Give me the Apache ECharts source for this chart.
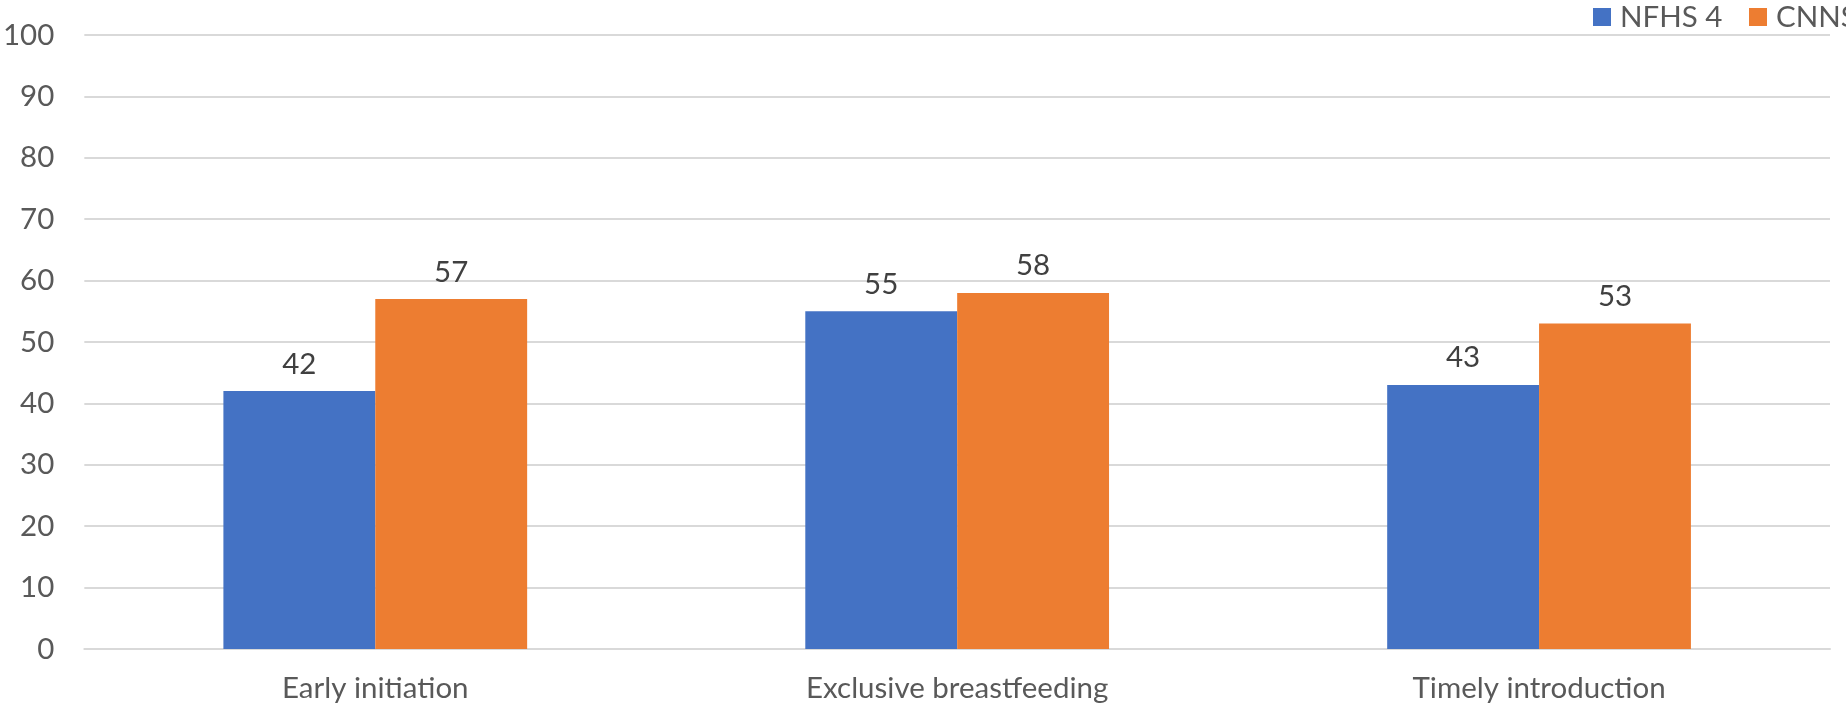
<!DOCTYPE html>
<html>
<head>
<meta charset="utf-8">
<script src="https://cdn.jsdelivr.net/npm/echarts@6/dist/echarts.min.js"></script>
<style>
html,body{margin:0;padding:0;background:#fff;overflow:hidden;width:1846px;height:707px;}
#chart{width:1920px;height:707px;}
</style>
</head>
<body>
<div id="chart"></div>
<script>
const categories = ['Early initiation', 'Exclusive breastfeeding', 'Timely introduction'];
const nfhs4 = [42, 55, 43];
const cnns = [57, 58, 53];
const seriesNames = ['NFHS 4', 'CNNS'];

const FONT = 'Lato';
const FS = 29.5;
const chart = echarts.init(document.getElementById('chart'), null, {renderer: 'canvas'});
const labelStyle = {
  show: true, position: 'top', distance: 12,
  fontFamily: FONT, fontSize: FS, color: '#404040'
};
const legendBase = {
  top: 2, orient: 'horizontal', padding: 0,
  itemWidth: 18, itemHeight: 18,
  icon: 'rect',
  textStyle: {fontFamily: FONT, fontSize: FS, color: '#595959', padding: [0, 0, 0, 4]}
};
chart.setOption({
  animation: false,
  textStyle: {fontFamily: FONT},
  legend: [
    Object.assign({}, legendBase, {data: [seriesNames[0]], left: 1593}),
    Object.assign({}, legendBase, {data: [seriesNames[1]], left: 1749})
  ],
  grid: {left: 82, right: 90, top: 35, bottom: 58, containLabel: false},
  xAxis: {
    type: 'category',
    data: categories,
    axisLine: {lineStyle: {color: '#d9d9d9', width: 2}},
    axisTick: {show: false},
    axisLabel: {fontFamily: FONT, fontSize: FS, color: '#595959', margin: 24}
  },
  yAxis: {
    type: 'value', min: 0, max: 100, interval: 10,
    axisLine: {show: false}, axisTick: {show: false},
    splitLine: {lineStyle: {color: '#d9d9d9', width: 2}},
    axisLabel: {fontFamily: FONT, fontSize: FS, color: '#595959', margin: 30}
  },
  series: [
    {name: seriesNames[0], type: 'bar', data: nfhs4, barGap: '0%', barCategoryGap: '47.8%',
     itemStyle: {color: '#4472c4'}, label: labelStyle},
    {name: seriesNames[1], type: 'bar', data: cnns, barGap: '0%', barCategoryGap: '47.8%',
     itemStyle: {color: '#ed7d31'}, label: labelStyle}
  ]
});
</script>
</body>
</html>
